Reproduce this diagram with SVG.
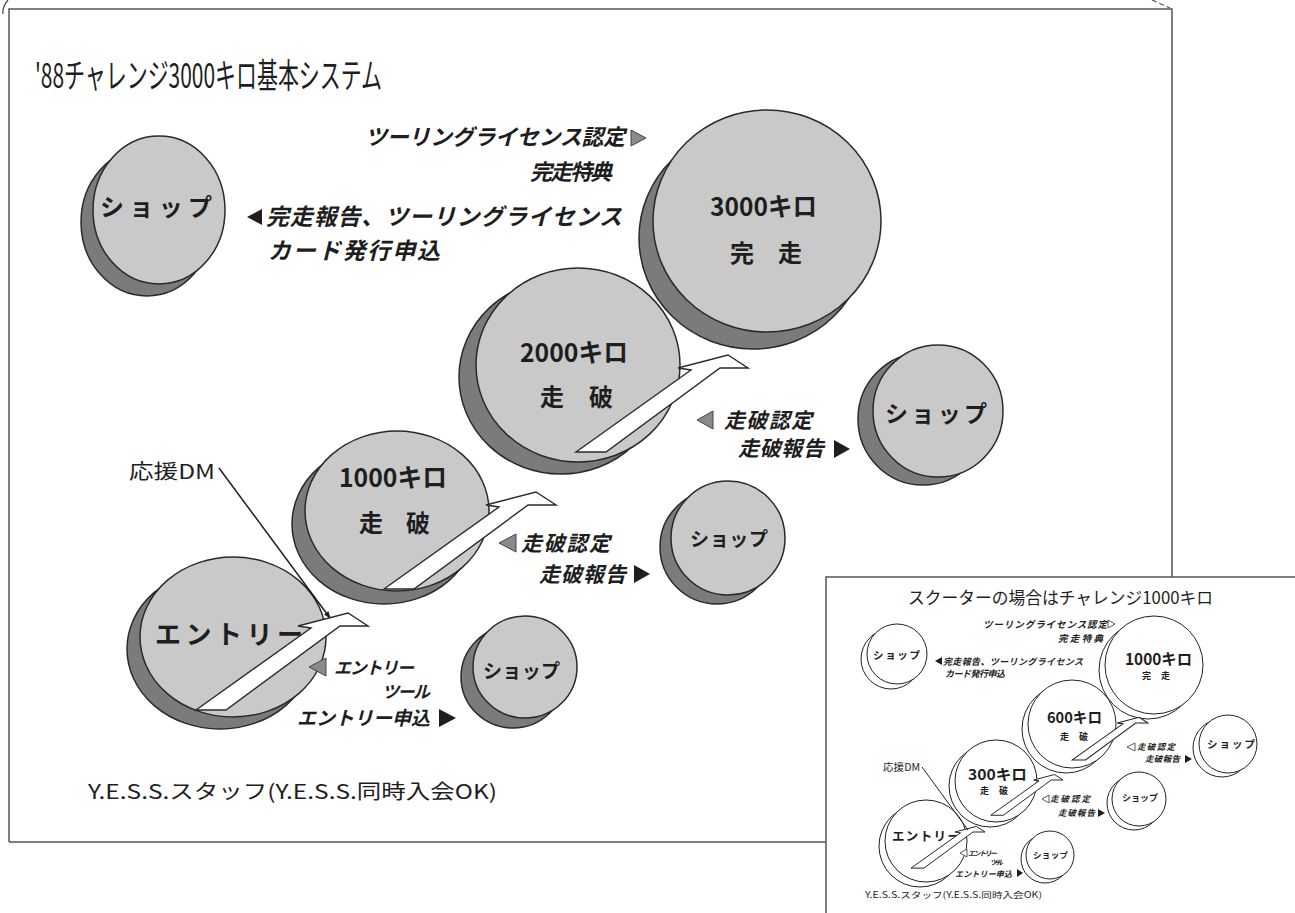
<svg xmlns="http://www.w3.org/2000/svg" width="1295" height="913" viewBox="0 0 1295 913">
<defs>
<style>
.jp{font-family:"Noto Sans CJK JP","Noto Sans",sans-serif;fill:#1e1e1e}
.b{font-weight:700}
.it{font-style:italic}
.light{fill:#c9c9c9;stroke:#2a2a2a;stroke-width:1.5}
.dark{fill:#7b7b7b;stroke:#2a2a2a;stroke-width:1.5}
.ptr{fill:#fff;stroke:#2a2a2a;stroke-width:1.4}
.iptr{fill:#fff;stroke:#222;stroke-width:2.3}
.frame{fill:none;stroke:#555;stroke-width:1.5}
.ic{fill:#fff;stroke:#222;stroke-width:1}
.td{fill:#1e1e1e}
.tg{fill:#8a8a8a;stroke:#444;stroke-width:1}
.to{fill:#fff;stroke:#333;stroke-width:0.8}
</style>
<path id="ptrshape" d="M-172,84 L-57,2 L-70,0 L-20,-13 L0,0 L-28,0 L-142,84 Z"/>
<marker id="ah" viewBox="0 0 10 10" refX="9" refY="5" markerWidth="9" markerHeight="7" orient="auto" markerUnits="userSpaceOnUse">
<path d="M0,1 L10,5 L0,9 Z" fill="#1e1e1e"/>
</marker>
</defs>

<g id="frame">
<path class="frame" d="M9,842 L9,9 L1172,9 L1172,577"/>
<path class="frame" d="M9,842 L826,842"/>
<path d="M8,0 Q2,7 3,14" fill="none" stroke="#444" stroke-width="1.2"/>
<path d="M1152,0 L1170,8" fill="none" stroke="#555" stroke-width="1.2" stroke-dasharray="5,3"/>
</g>

<text id="title" class="jp" x="35" y="88" font-size="34" textLength="347" lengthAdjust="spacingAndGlyphs">'88チャレンジ3000キロ基本システム</text>

<g id="shop-tl">
<ellipse class="dark" cx="147" cy="222" rx="66" ry="74"/>
<ellipse class="light" cx="159" cy="210" rx="66" ry="74"/>
<text class="jp b" x="100" y="216" font-size="24" textLength="112" lengthAdjust="spacing">ショップ</text>
</g>

<g id="entry">
<ellipse class="dark" cx="220" cy="649" rx="93" ry="80"/>
<ellipse class="light" cx="233" cy="637" rx="93" ry="80"/>
<text class="jp b" x="155" y="644" font-size="26" textLength="148" lengthAdjust="spacing">エントリー</text>
</g>

<g id="km1000">
<ellipse class="dark" cx="384" cy="524" rx="92" ry="80"/>
<ellipse class="light" cx="397" cy="511" rx="92" ry="80"/>
<text class="jp b" x="339" y="487" font-size="26" textLength="108" lengthAdjust="spacingAndGlyphs">1000キロ</text>
<text class="jp b" x="359" y="532" font-size="24" textLength="71" lengthAdjust="spacing">走　破</text>
</g>

<g id="km2000">
<ellipse class="dark" cx="561" cy="377" rx="102" ry="97"/>
<ellipse class="light" cx="578" cy="365" rx="102" ry="97"/>
<text class="jp b" x="520" y="362" font-size="26" textLength="108" lengthAdjust="spacingAndGlyphs">2000キロ</text>
<text class="jp b" x="540" y="406" font-size="24" textLength="73" lengthAdjust="spacing">走　破</text>
</g>

<g id="km3000">
<ellipse class="dark" cx="753" cy="238" rx="114" ry="111"/>
<ellipse class="light" cx="767" cy="221" rx="114" ry="111"/>
<text class="jp b" x="710" y="216" font-size="26" textLength="107" lengthAdjust="spacingAndGlyphs">3000キロ</text>
<text class="jp b" x="730" y="262" font-size="24" textLength="72" lengthAdjust="spacing">完　走</text>
</g>

<g id="shop-right">
<ellipse class="dark" cx="923" cy="419" rx="65" ry="66"/>
<ellipse class="light" cx="938" cy="411" rx="65" ry="66"/>
<text class="jp b" x="885" y="422" font-size="23" textLength="102" lengthAdjust="spacing">ショップ</text>
</g>

<g id="shop-mid">
<ellipse class="dark" cx="717" cy="547" rx="57" ry="57"/>
<ellipse class="light" cx="728" cy="538" rx="57" ry="57"/>
<text class="jp b" x="690" y="546" font-size="19" textLength="78" lengthAdjust="spacing">ショップ</text>
</g>

<g id="shop-bottom">
<ellipse class="dark" cx="513" cy="677" rx="52" ry="51"/>
<ellipse class="light" cx="525" cy="667" rx="52" ry="51"/>
<text class="jp b" x="483" y="678" font-size="19" textLength="77" lengthAdjust="spacing">ショップ</text>
</g>

<g id="connectors">
<use href="#ptrshape" class="ptr" transform="translate(368,626)"/>
<use href="#ptrshape" class="ptr" transform="translate(556,505)"/>
<use href="#ptrshape" class="ptr" transform="translate(748,368)"/>
<line x1="219" y1="468" x2="330" y2="618" stroke="#1e1e1e" stroke-width="1.5" marker-end="url(#ah)"/>
</g>

<g id="labels">
<text class="jp b it" x="365" y="145" font-size="22" textLength="260" lengthAdjust="spacing">ツーリングライセンス認定</text>
<polygon class="tg" points="631,130 646,138 631,146"/>
<text class="jp b it" x="530" y="180" font-size="22" textLength="82" lengthAdjust="spacing">完走特典</text>
<polygon class="td" points="262,209 247,217 262,225"/>
<text class="jp b it" x="266" y="225" font-size="23" textLength="356" lengthAdjust="spacing">完走報告、ツーリングライセンス</text>
<text class="jp b it" x="268" y="259" font-size="23" textLength="172" lengthAdjust="spacing">カード発行申込</text>

<polygon class="tg" points="713,411 697,420 713,429"/>
<text class="jp b it" x="724" y="428" font-size="21" textLength="88" lengthAdjust="spacing">走破認定</text>
<text class="jp b it" x="738" y="456" font-size="21" textLength="86" lengthAdjust="spacing">走破報告</text>
<polygon class="td" points="834,440 850,449 834,458"/>

<polygon class="tg" points="516,534 499,543 516,552"/>
<text class="jp b it" x="521" y="551" font-size="21" textLength="89" lengthAdjust="spacing">走破認定</text>
<text class="jp b it" x="539" y="582" font-size="21" textLength="87" lengthAdjust="spacing">走破報告</text>
<polygon class="td" points="634,565 650,574 634,583"/>

<polygon class="tg" points="326,658 309,667 326,676"/>
<text class="jp b it" x="334" y="674" font-size="17" textLength="80" lengthAdjust="spacing">エントリー</text>
<text class="jp b it" x="382" y="698" font-size="17" textLength="48" lengthAdjust="spacing">ツール</text>
<text class="jp b it" x="297" y="725" font-size="19" textLength="133" lengthAdjust="spacing">エントリー申込</text>
<polygon class="td" points="439,709 456,718 439,727"/>

<text class="jp" x="129" y="479" font-size="20" textLength="86" lengthAdjust="spacingAndGlyphs">応援DM</text>
<text class="jp" x="88" y="799" font-size="20" textLength="409" lengthAdjust="spacingAndGlyphs">Y.E.S.S.スタッフ(Y.E.S.S.同時入会OK)</text>
</g>

<g id="inset">
<path class="frame" d="M826,913 L826,577 L1295,577" stroke-width="1.2"/>
<text class="jp" x="908" y="604" font-size="17" textLength="305" lengthAdjust="spacingAndGlyphs">スクーターの場合はチャレンジ1000キロ</text>

<g id="i-shop-tl">
<circle class="ic" cx="891" cy="659" r="30"/>
<circle class="ic" cx="897" cy="654" r="30"/>
<text class="jp b" x="873" y="659" font-size="10.5" textLength="47" lengthAdjust="spacing">ショップ</text>
</g>
<g id="i-entry">
<circle class="ic" cx="920" cy="846" r="41"/>
<circle class="ic" cx="926" cy="841" r="41"/>
<text class="jp b" x="892" y="841" font-size="12.5" textLength="68" lengthAdjust="spacing">エントリー</text>
</g>
<g id="i-km300">
<circle class="ic" cx="990" cy="786" r="41"/>
<circle class="ic" cx="996" cy="781" r="41"/>
<text class="jp b" x="968" y="780" font-size="15" textLength="59" lengthAdjust="spacingAndGlyphs">300キロ</text>
<text class="jp b" x="980" y="794" font-size="9" textLength="28" lengthAdjust="spacing">走　破</text>
</g>
<g id="i-km600">
<circle class="ic" cx="1066" cy="729" r="44"/>
<circle class="ic" cx="1072" cy="724" r="44"/>
<text class="jp b" x="1047" y="723" font-size="15" textLength="55" lengthAdjust="spacingAndGlyphs">600キロ</text>
<text class="jp b" x="1060" y="740" font-size="9" textLength="28" lengthAdjust="spacing">走　破</text>
</g>
<g id="i-km1000">
<circle class="ic" cx="1148" cy="670" r="49"/>
<circle class="ic" cx="1154" cy="665" r="49"/>
<text class="jp b" x="1125" y="665" font-size="16" textLength="67" lengthAdjust="spacingAndGlyphs">1000キロ</text>
<text class="jp b" x="1142" y="679" font-size="9" textLength="28" lengthAdjust="spacing">完　走</text>
</g>
<g id="i-shop-right">
<circle class="ic" cx="1222" cy="748" r="29"/>
<circle class="ic" cx="1228" cy="744" r="29"/>
<text class="jp b" x="1207" y="748" font-size="10.5" textLength="48" lengthAdjust="spacing">ショップ</text>
</g>
<g id="i-shop-mid">
<circle class="ic" cx="1134" cy="803" r="27"/>
<circle class="ic" cx="1139" cy="799" r="27"/>
<text class="jp b" x="1122" y="801" font-size="9" textLength="36" lengthAdjust="spacing">ショップ</text>
</g>
<g id="i-shop-bottom">
<circle class="ic" cx="1045" cy="859" r="24"/>
<circle class="ic" cx="1050" cy="855" r="24"/>
<text class="jp b" x="1033" y="858" font-size="8.5" textLength="35" lengthAdjust="spacing">ショップ</text>
</g>

<g id="i-connectors">
<use href="#ptrshape" class="iptr" transform="translate(985,832) scale(0.43)"/>
<use href="#ptrshape" class="iptr" transform="translate(1063,780) scale(0.42)"/>
<use href="#ptrshape" class="iptr" transform="translate(1148,723) scale(0.44)"/>
<line x1="922" y1="767" x2="968" y2="830" stroke="#222" stroke-width="1"/>
</g>

<g id="i-labels">
<text class="jp b it" x="983" y="628" font-size="9.5" textLength="124" lengthAdjust="spacing">ツーリングライセンス認定</text>
<polygon class="to" points="1108,620 1115,624 1108,628"/>
<text class="jp b it" x="1058" y="642" font-size="9.5" textLength="45" lengthAdjust="spacing">完走特典</text>
<polygon class="td" points="942,657 935,661 942,665"/>
<text class="jp b it" x="943" y="665" font-size="9" textLength="140" lengthAdjust="spacing">完走報告、ツーリングライセンス</text>
<text class="jp b it" x="945" y="677" font-size="9" textLength="60" lengthAdjust="spacing">カード発行申込</text>

<polygon class="to" points="1135,743 1127,747 1135,751"/>
<text class="jp b it" x="1137" y="750" font-size="8.5" textLength="38" lengthAdjust="spacing">走破認定</text>
<text class="jp b it" x="1145" y="762" font-size="8.5" textLength="35" lengthAdjust="spacing">走破報告</text>
<polygon class="td" points="1185,755 1192,759 1185,763"/>

<polygon class="to" points="1049,795 1042,799 1049,803"/>
<text class="jp b it" x="1050" y="802" font-size="8.5" textLength="40" lengthAdjust="spacing">走破認定</text>
<text class="jp b it" x="1058" y="816" font-size="8.5" textLength="37" lengthAdjust="spacing">走破報告</text>
<polygon class="td" points="1098,809 1105,813 1098,817"/>

<polygon class="to" points="967,849 960,853 967,857"/>
<text class="jp b it" x="968" y="856" font-size="7" textLength="29" lengthAdjust="spacing">エントリー</text>
<text class="jp b it" x="990" y="865" font-size="7" textLength="13" lengthAdjust="spacing">ツール</text>
<text class="jp b it" x="955" y="877" font-size="8" textLength="57" lengthAdjust="spacing">エントリー申込</text>
<polygon class="td" points="1017,869 1023,873 1017,877"/>

<text class="jp" x="883" y="771" font-size="10" textLength="37" lengthAdjust="spacingAndGlyphs">応援DM</text>
<text class="jp" x="865" y="898" font-size="8.5" textLength="177" lengthAdjust="spacingAndGlyphs">Y.E.S.S.スタッフ(Y.E.S.S.同時入会OK)</text>
</g>
</g>
</svg>
